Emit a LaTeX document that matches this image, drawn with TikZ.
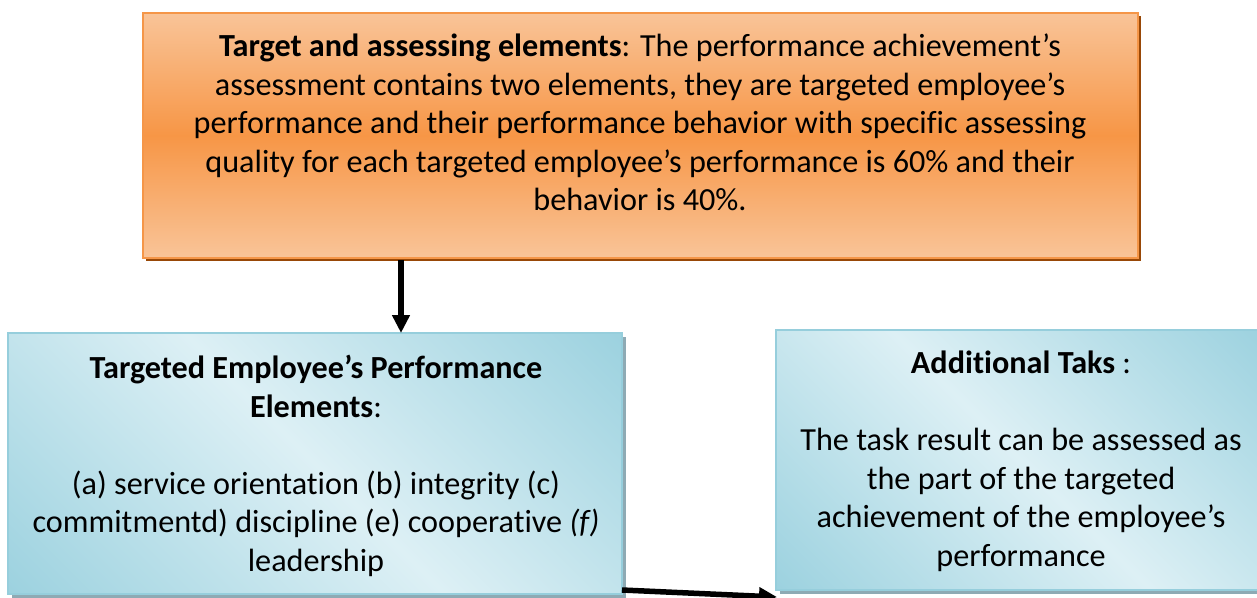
\documentclass[tikz,border=0pt]{standalone}
\usepackage{fontspec}
\setmainfont{Carlito}[Ligatures=NoCommon,RawFeature={-liga;-clig;-calt;-dlig}]
\usetikzlibrary{arrows.meta,shadows}
\definecolor{orlight}{RGB}{249,196,152}
\definecolor{ormid}{RGB}{247,150,70}
\definecolor{orborder}{RGB}{245,150,72}
\definecolor{orshadow}{RGB}{152,72,7}
\definecolor{bllight}{RGB}{221,240,245}
\definecolor{bldark}{RGB}{144,204,219}
\definecolor{blborder}{RGB}{150,206,220}
\definecolor{blshadow}{RGB}{142,170,180}
\pgfdeclareverticalshading{bluegrad}{100bp}{color(0bp)=(bldark); color(8bp)=(bldark); color(50bp)=(bllight); color(92bp)=(bldark); color(100bp)=(bldark)}
\tikzset{
  orangebox/.style={draw=orborder, line width=1.5pt, rectangle, inner sep=0pt,
    top color=orlight, bottom color=orlight, middle color=ormid,
    drop shadow={shadow xshift=3pt, shadow yshift=-3pt, opacity=1, fill=orshadow, draw=none}},
  bluebox/.style={draw=blborder, line width=2pt, rectangle, inner sep=0pt,
    shade, shading=bluegrad, shading angle=-45,
    drop shadow={shadow xshift=4pt, shadow yshift=-4pt, opacity=1, fill=blshadow, draw=none}},
  boxtext/.style={align=center, inner sep=0pt, anchor=north,
    font=\fontsize{32.2}{38.5}\selectfont},
  connector/.style={line width=5.5pt, -{Triangle[length=18pt,width=17pt]}}
}
\begin{document}
\begin{tikzpicture}[x=1pt,y=-1pt]
\clip (0,0) rectangle (1257,597);
\fill[white] (0,0) rectangle (1257,597);
% top box
\node[orangebox, minimum width=995pt, minimum height=245pt] (top) at (640.5,135.5) {};
\node[boxtext] (toptext) at (640,34) {\textbf{Target and assessing elements}: The performance achievement’s\\
assessment contains two elements, they are targeted employee’s\\
performance and their performance behavior with specific assessing\\
quality for each targeted employee’s performance is 60\% and their\\
behavior is 40\%.};
% left box
\node[bluebox, minimum width=614pt, minimum height=261pt] (left) at (315,463.5) {};
\node[boxtext] (lefttext) at (316,355) {\textbf{Targeted Employee’s Performance}\\
\textbf{Elements}:\\[38.5pt]
(a) service orientation (b) integrity (c)\\
commitmentd) discipline (e) cooperative \textit{(f)}\\
leadership};
% right box
\node[bluebox, minimum width=490pt, minimum height=260pt] (right) at (1021,460) {};
\node[boxtext] (righttext) at (1021,351) {\textbf{Additional Taks} :\\[38.5pt]
The task result can be assessed as\\
the part of the targeted\\
achievement of the employee’s\\
performance};
% connectors
\coordinate (a1) at (401,260);
\coordinate (a2) at (401,333);
\draw[connector] (a1) -- (a2);
\coordinate (b1) at (622,590);
\coordinate (b2) at (777,597);
\draw[connector] (b1) -- (b2);
\end{tikzpicture}
\end{document}
